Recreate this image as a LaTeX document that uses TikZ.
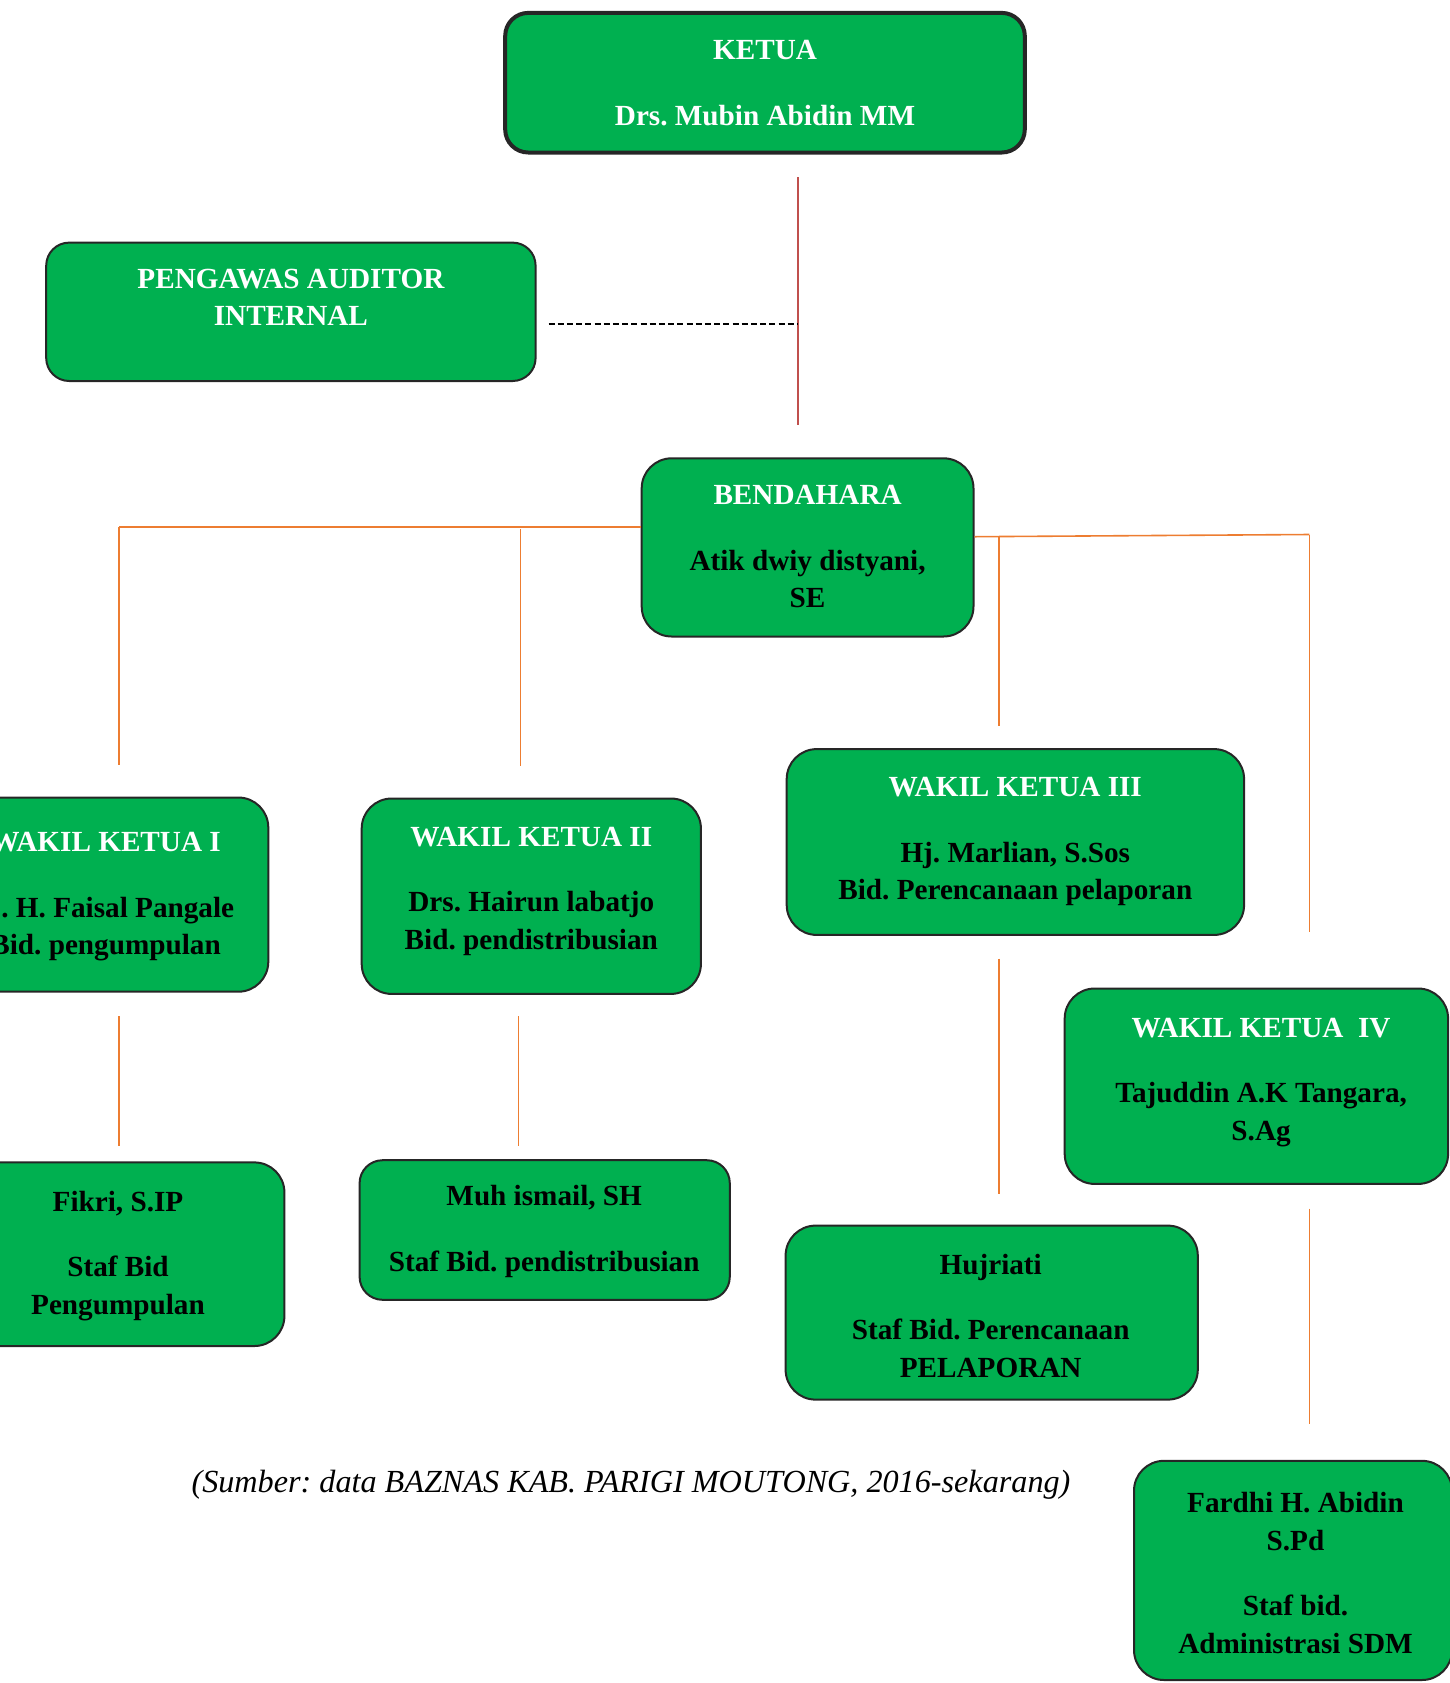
\documentclass[tikz,border=0pt]{standalone}
\usepackage{fontspec}
\setmainfont{Liberation Serif}
\usepackage{tikz}
\frenchspacing

\definecolor{baznas}{HTML}{00B050}
\definecolor{boxline}{HTML}{262626}
\definecolor{feedorange}{HTML}{ED7D31}
\definecolor{mainred}{HTML}{C0504D}

\newcommand\orgfont{\fontsize{14.6pt}{18.75pt}\selectfont\bfseries}
\newcommand\judul[1]{\textcolor{white}{#1}}

\tikzset{
	orgbox/.style={draw=boxline, fill=baznas, line width=1pt, rounded corners=15pt, inner sep=0pt},
	orgtext/.style={anchor=north, align=center, font=\orgfont, inner sep=0pt},
	feeder/.style={draw=feedorange, line width=0.8pt},
	mainline/.style={draw=mainred, line width=1pt},
}

\begin{document}
\begin{tikzpicture}[x=0.5pt, y=-0.5pt]
	\useasboundingbox (0,0) rectangle (1450,1683);
	\clip (0,0) rectangle (1450,1683);
	% boxes
	\node[orgbox, line width=2pt, rounded corners=11.5pt, minimum width=259.8pt, minimum height=69.8pt] (ketua) at (765,82.7) {};
	\node[orgbox, rounded corners=11.5pt, minimum width=244.7pt, minimum height=69.2pt] (pengawas) at (290.9,311.8) {};
	\node[orgbox, minimum width=165.9pt, minimum height=89.1pt] (bendahara) at (807.6,547.4) {};
	\node[orgbox, minimum width=161.3pt, minimum height=97.1pt] (wakil1) at (107,894.6) {};
	\node[orgbox, minimum width=169.6pt, minimum height=97.7pt] (wakil2) at (531.3,896.2) {};
	\node[orgbox, minimum width=228.7pt, minimum height=92.9pt] (wakil3) at (1015.4,842) {};
	\node[orgbox, minimum width=191.7pt, minimum height=97.7pt] (wakil4) at (1256.4,1086.2) {};
	\node[orgbox, minimum width=166.4pt, minimum height=91.8pt] (staf1) at (118,1254.2) {};
	\node[orgbox, rounded corners=11.5pt, minimum width=185.1pt, minimum height=69.8pt] (staf2) at (544.7,1230) {};
	\node[orgbox, minimum width=206.1pt, minimum height=87pt] (staf3) at (991.7,1312.6) {};
	\node[orgbox, minimum width=159pt, minimum height=109.6pt] (staf4) at (1293,1570.4) {};
	% texts
	\node[orgtext] (ketua-t) at (765,39.9) {\judul{KETUA}\\[14pt]\judul{Drs. Mubin Abidin MM}};
	\node[orgtext] (pengawas-t) at (290.9,268.5) {\judul{PENGAWAS AUDITOR}\\\judul{INTERNAL}};
	\node[orgtext] (bendahara-t) at (807.6,485.3) {\judul{BENDAHARA}\\[14pt]Atik dwiy distyani,\\SE};
	\node[orgtext] (wakil1-t) at (105.6,832) {\judul{WAKIL KETUA I}\\[14pt]\hphantom{Ir}. H. Faisal Pangale\\Bid. pengumpulan};
	\node[orgtext] (wakil2-t) at (531.3,826.6) {\judul{WAKIL KETUA II}\\[14pt]Drs. Hairun labatjo\\Bid. pendistribusian};
	\node[orgtext] (wakil3-t) at (1015.3,777.2) {\judul{WAKIL KETUA III}\\[14pt]Hj. Marlian, S.Sos\\Bid. Perencanaan pelaporan};
	\node[orgtext] (wakil4-t) at (1261.1,1017.7) {\judul{WAKIL KETUA\ \ IV}\\[14pt]Tajuddin A.K Tangara,\\S.Ag};
	\node[orgtext] (staf1-t) at (118,1190.5) {Fikri, S.IP\\[14pt]Staf Bid\\Pengumpulan};
	\node[orgtext] (staf2-t) at (544.2,1185.1) {Muh ismail, SH\\[14pt]Staf Bid. pendistribusian};
	\node[orgtext] (staf3-t) at (990.7,1253.8) {Hujriati\\[14pt]Staf Bid. Perencanaan\\PELAPORAN};
	\node[orgtext] (staf4-t) at (1295.5,1492.1) {Fardhi H. Abidin\\S.Pd\\[14pt]Staf bid.\\Administrasi SDM};
	% connectors
	\coordinate (red-top) at (797.5,177.1);
	\coordinate (red-bot) at (797.5,425);
	\coordinate (red-mid) at (797.5,324.1);
	\coordinate (dash-end) at (548.5,324.1);
	\draw[mainline] (red-top) -- (red-bot);
	\draw[line width=1pt, dash pattern=on 3pt off 1.6pt] (dash-end) -- (red-mid);
	\coordinate (kiri1) at (119.1,527);
	\coordinate (kiri2) at (520.6,529.1);
	\coordinate (kanan1) at (999.2,536.7);
	\coordinate (kanan2) at (1309.4,534.5);
	\draw[feeder] (kiri1) -- (bendahara.west |- kiri1);
	\draw[feeder] (kiri1) -- (119.1,765.3);
	\draw[feeder] (kiri2) -- (520.6,766.3);
	\draw[feeder] (bendahara.east |- kanan1) -- (kanan2);
	\draw[feeder] (kanan1) -- (999.2,725.6);
	\draw[feeder] (kanan2) -- (1309.4,931.6);
	\draw[feeder] (119.1,1016.4) -- (119.1,1146.3);
	\draw[feeder] (518.4,1016.4) -- (518.4,1146.3);
	\draw[feeder] (999.2,958.5) -- (999.2,1193.5);
	\draw[feeder] (1309.4,1208.5) -- (1309.4,1424.3);
	% source
	\node[font=\fontsize{16.1pt}{19pt}\selectfont\itshape, anchor=base] (sumber) at (631,1492.5) {(Sumber: data BAZNAS KAB. PARIGI MOUTONG, 2016-sekarang)};
\end{tikzpicture}
\end{document}
